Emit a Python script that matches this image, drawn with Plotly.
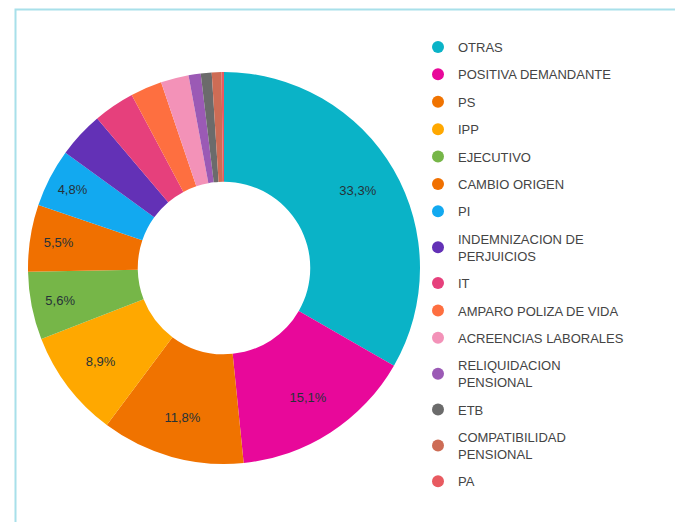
import plotly.graph_objects as go

categories = ["OTRAS", "POSITIVA DEMANDANTE", "PS", "IPP", "EJECUTIVO", "CAMBIO ORIGEN", "PI",
              "INDEMNIZACION DE<br>PERJUICIOS", "IT", "AMPARO POLIZA DE VIDA", "ACREENCIAS LABORALES",
              "RELIQUIDACION<br>PENSIONAL", "ETB", "COMPATIBILIDAD<br>PENSIONAL", "PA"]
values = [33.3, 15.1, 11.8, 8.9, 5.6, 5.5, 4.8, 3.8, 3.4, 2.6, 2.3, 1.0, 0.9, 0.8, 0.2]
colors = ["#0ab3c7", "#e8089a", "#f07300", "#ffa800", "#76b648", "#f07000", "#12a9f0",
          "#6331b6", "#e6407c", "#fe6f40", "#f392b8", "#9b5ab5", "#6b6b6b", "#cd6c55", "#e85a60"]
label_min = 4.5

W, H = 675, 522
texttemplates = ["%{percent:.1%}" if v >= label_min else "" for v in values]
pie_domain = dict(x=[28 / W, 420 / W], y=[58 / H, 450 / H])

fig = go.Figure()
# coloured donut
fig.add_trace(go.Pie(
    labels=categories, values=values, sort=False, direction="clockwise", rotation=0,
    hole=0.44, marker=dict(colors=colors, line=dict(width=0)),
    textinfo="none", domain=pie_domain,
    showlegend=False, hoverinfo="label+percent",
))
# transparent overlay that carries the percentage labels further out in the ring
fig.add_trace(go.Pie(
    labels=categories, values=values, sort=False, direction="clockwise", rotation=0,
    hole=0.58, marker=dict(colors=["rgba(0,0,0,0)"] * len(values), line=dict(width=0)),
    texttemplate=texttemplates, textposition="inside", insidetextorientation="horizontal",
    textfont=dict(size=13, color="#263238", family="Arial"),
    domain=pie_domain, showlegend=False, hoverinfo="skip",
))
for i, (c, col) in enumerate(zip(categories, colors)):
    fig.add_trace(go.Scatter(
        x=[None], y=[None], mode="markers", name=c, legendgroup=str(i),
        marker=dict(symbol="circle", size=14, color=col), showlegend=True,
    ))

fig.update_layout(
    width=W, height=H, margin=dict(l=0, r=0, t=0, b=0),
    paper_bgcolor="white", plot_bgcolor="white",
    separators=",.",
    xaxis=dict(visible=False), yaxis=dict(visible=False),
    font=dict(family="Arial", size=12, color="#444"),
    legend=dict(x=418 / W, y=1 - 32 / H, xanchor="left", yanchor="top",
                tracegroupgap=7.5, itemsizing="constant", bgcolor="rgba(0,0,0,0)",
                font=dict(size=13, color="#444")),
    shapes=[dict(type="rect", xref="paper", yref="paper",
                 x0=15.5 / W, x1=1.05, y0=-0.05, y1=1 - 9.5 / H,
                 line=dict(color="#a8e0ea", width=2), fillcolor="rgba(0,0,0,0)")],
)

fig.write_html("out.html", config={"displayModeBar": False},
               post_script="document.body.style.margin='0';document.body.style.overflow='hidden';")
